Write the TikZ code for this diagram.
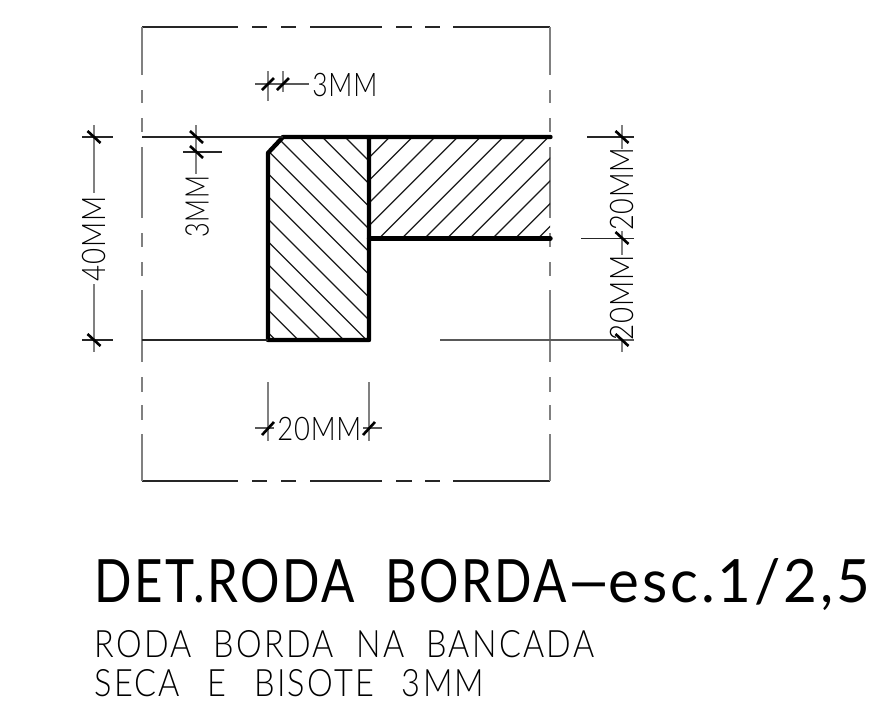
\documentclass[tikz,border=0pt]{standalone}
\usepackage{fontspec}
\usepackage{graphicx}
\usepackage{tikz}
\newfontfamily\caddim[LetterSpace=3]{Lato Light}
\newfontfamily\cadlight[LetterSpace=7]{Lato Light}
\newfontfamily\cadtitle[LetterSpace=5]{Lato}
\newlength\pxunit
\setlength\pxunit{0.02cm}
\newcommand{\cadfit}[2]{\resizebox{#1\pxunit}{\height}{#2}}
\tikzset{
    outline/.style={line width=2.5pt, line cap=round, line join=round},
    hatchline/.style={line width=0.7pt, black!90},
    tickmark/.style={line width=1.5pt},
    dimh/.style={line width=0.7pt, black!85},
    dimv/.style={line width=0.8pt, black!50},
    dimtext/.style={inner sep=0pt, anchor=base west, font=\caddim\fontsize{18.5}{18.5}\selectfont},
    subtext/.style={inner sep=0pt, anchor=base west, font=\cadlight\fontsize{21.5}{21.5}\selectfont},
    titletext/.style={inner sep=0pt, anchor=base west, font=\cadtitle\fontsize{34}{34}\selectfont}
}
\begin{document}
\begin{tikzpicture}[x=0.02cm, y=-0.02cm]
    \useasboundingbox (0,0) rectangle (873,707);
    % dashed frame
    \foreach \a/\b in {142/238, 252/267, 281/296, 310/382, 396/412, 425/440, 453/550} {
        \draw [dimh] (\a,27) -- (\b,27);
        \draw [dimh] (\a,481) -- (\b,481);
    }
    \foreach \a/\b in {27/75, 90/103, 118/132, 147/218, 233/247, 262/276, 290/362, 377/392, 405/420, 434/481} {
        \draw [dimv] (142,\a) -- (142,\b);
        \draw [dimv] (550,\a) -- (550,\b);
    }
    % hatching
    \begin{scope}
        \clip (268,153) -- (283,137) -- (369,137) -- (369,340) -- (268,340) -- cycle;
        \foreach \c in {-208,-185.3,-162.6,-139.9,-117.2,-94.5,-71.8,-49.1,-26.4,-3.7,19,41.7,64.4}
            \draw [hatchline] (260,260+\c) -- (380,380+\c);
    \end{scope}
    \begin{scope}
        \clip (369,137) rectangle (550,238);
        \foreach \c in {526.7,549.4,572.1,594.8,617.5,640.2,662.9,685.6,708.3,731,753.7,776.4}
            \draw [hatchline] (360,\c-360) -- (560,\c-560);
    \end{scope}
    % profile
    \draw [outline] (550.5,137) -- (283,137) -- (268,153) -- (268,340) -- (369,340) -- (369,137);
    \draw [outline] (369,238.5) -- (550.5,238.5);
    % extension lines
    \draw [dimh] (142,137) -- (283,137);
    \draw [dimh] (142,340) -- (268,340);
    \draw [dimh] (82,137) -- (113,137);
    \draw [dimh] (82,340) -- (113,340);
    \draw [dimh] (183,152) -- (222,152);
    \draw [dimh] (587,137) -- (634,137);
    \draw [dimh] (581,238.5) -- (634,238.5);
    \draw [dimh, black!65] (440,340) -- (634,340);
    % 3MM top
    \draw [dimv] (268,71) -- (268,101);
    \draw [dimv] (283,71) -- (283,92);
    \draw [dimh, black!65] (255,84) -- (309,84);
    \draw [tickmark] (262,90) -- (274,78);
    \draw [tickmark] (277,90) -- (289,78);
    \node [dimtext] (topdim) at (312,96) {\cadfit{65}{3MM}};
    % 40MM left
    \draw [dimv] (94,125) -- (94,193);
    \draw [dimv] (94,284) -- (94,352);
    \draw [tickmark] (87.5,131) -- (100.5,143);
    \draw [tickmark] (87.5,334) -- (100.5,346);
    \node [dimtext, rotate=90] (leftdim) at (105.5,282) {\cadfit{85}{40MM}};
    % 3MM left
    \draw [dimv] (196,125) -- (196,174);
    \draw [tickmark] (190,131) -- (203,143);
    \draw [tickmark] (190,146) -- (203,158);
    \node [dimtext, rotate=90] (bisotedim) at (208.5,238) {\cadfit{62}{3MM}};
    % 20MM bottom
    \draw [dimv] (268,382) -- (268,441);
    \draw [dimv] (369,382) -- (369,441);
    \draw [dimh, black!65] (255,428) -- (274,428);
    \draw [dimh, black!65] (363,428) -- (382,428);
    \draw [tickmark] (262,435) -- (274,422);
    \draw [tickmark] (363,435) -- (375,422);
    \node [dimtext] (bottomdim) at (277,440) {\cadfit{84}{20MM}};
    % 20MM right
    \draw [dimv] (622,125) -- (622,149);
    \draw [dimv] (622,231) -- (622,255);
    \draw [dimv] (622,340) -- (622,352);
    \draw [tickmark] (615.5,131) -- (628.5,143);
    \draw [tickmark] (615.5,232) -- (628.5,244);
    \draw [tickmark] (615.5,334) -- (628.5,346);
    \node [dimtext, rotate=90] (rightdimup) at (633.5,231) {\cadfit{83}{20MM}};
    \node [dimtext, rotate=90] (rightdimlow) at (633.5,341) {\cadfit{85}{20MM}};
    % title
    \node [titletext] (title) at (94,602) {\cadfit{514}{DET.RODA\ \ BORDA—}\cadfit{262}{esc.1/2,5}};
    \node [subtext] (subone) at (94,657) {\cadfit{500}{RODA\ \ BORDA\ \ NA\ \ BANCADA}};
    \node [subtext] (subtwo) at (94,696) {\cadfit{390}{SECA\ \ \,E\ \ \,BISOTE\ \ \,3MM}};
\end{tikzpicture}
\end{document}
